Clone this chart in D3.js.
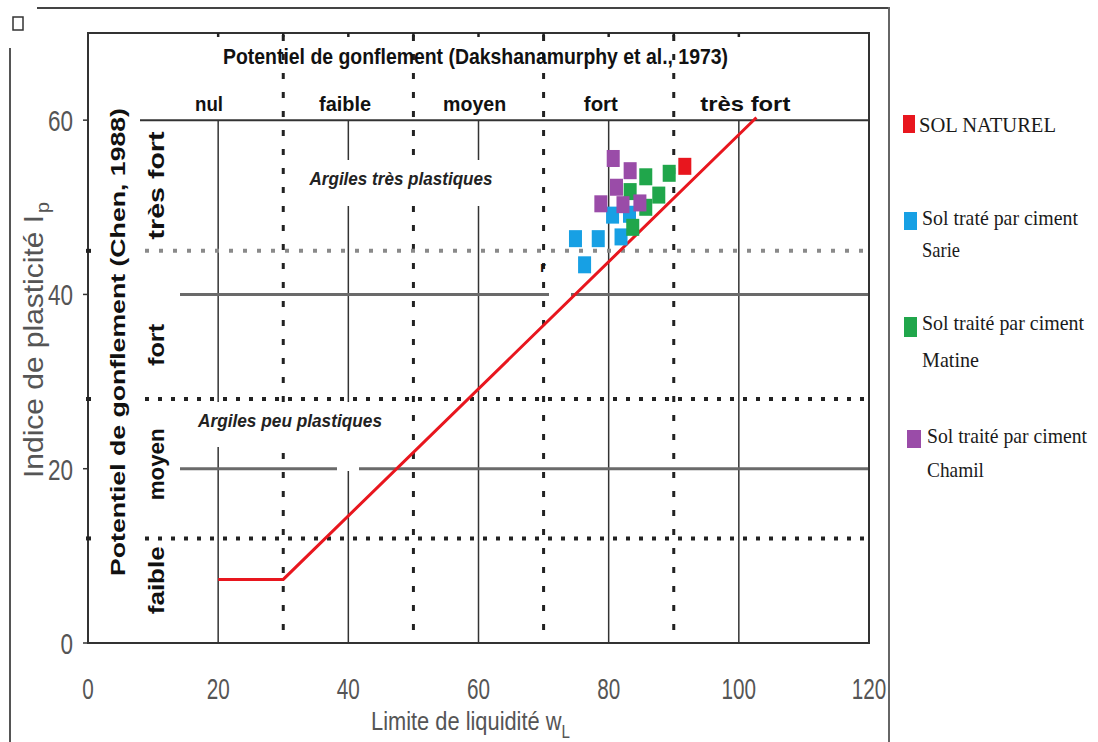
<!DOCTYPE html>
<html>
<head>
<meta charset="utf-8">
<script src="https://cdn.jsdelivr.net/npm/d3@7"></script>
<style>
  body { margin: 0; background: #fff; }
</style>
</head>
<body>
<div id="chart"></div>
<script>
// axis ticks
const xTicks = [0, 20, 40, 60, 80, 100, 120];
const yTicks = [0, 20, 40, 60];

// Dakshanamurphy classes (liquid limit)
const solidX = [20, 40, 60, 80, 100];
const dottedX = [30, 50, 70, 90];
const topTickX = [20, 30, 40, 50, 60, 70, 80, 90, 100];
const dakshLabels = ['nul', 'faible', 'moyen', 'fort', 'très fort'];
const dakshLabelX = [18.6, 39.5, 59.4, 78.8, 101];

// Chen classes (plasticity index)
const solidY = [20, 40, 60];
const dottedY = [12, 28, 45];
const chenLabels = ['très fort', 'fort', 'moyen', 'faible'];
const chenLabelY = [52.5, 34.2, 20.5, 7.2];

// A-line
const aLine = [[20, 7.3], [30, 7.3], [102.7, 60.3]];

// samples [wL, Ip]
const solNaturel = [[91.7, 54.7]];
const sarie = [[80.6, 49.1], [83.2, 49.2], [74.9, 46.4], [78.4, 46.4], [81.9, 46.6], [76.3, 43.4]];
const matine = [[85.7, 53.5], [89.3, 53.9], [83.3, 51.8], [87.7, 51.4], [85.7, 50.0], [83.7, 47.7]];
const chamil = [[80.7, 55.6], [83.3, 54.2], [81.2, 52.3], [78.8, 50.4], [82.2, 50.3], [84.8, 50.5]];

const legendLines = [
  ['SOL NATUREL'],
  ['Sol traté par ciment', 'Sarie'],
  ['Sol traité par ciment', 'Matine'],
  ['Sol traité par ciment', 'Chamil']
];
const colors = ['#e8161e', '#17a0e4', '#20a64b', '#9a4ca8'];

const W = 1098, H = 742;
const svg = d3.select('#chart').append('svg').attr('width', W).attr('height', H);

const x = d3.scaleLinear().domain([0, 120]).range([88, 869]);
const y = d3.scaleLinear().domain([0, 70]).range([643, 33]);

const SANS = 'Liberation Sans, Arial, sans-serif';
const SERIF = 'Liberation Serif, Times New Roman, serif';

function label(str, px, py, o) {
  const t = svg.append('text')
    .attr('x', px).attr('y', py)
    .attr('font-family', o.family || SANS)
    .attr('font-size', o.size)
    .attr('font-weight', o.weight || 'normal')
    .attr('font-style', o.style || 'normal')
    .attr('fill', o.fill || '#111')
    .attr('text-anchor', o.anchor || 'start')
    .text(str);
  if (o.len) t.attr('textLength', o.len).attr('lengthAdjust', 'spacingAndGlyphs');
  if (o.rotate) t.attr('transform', `rotate(${o.rotate},${px},${py})`);
  return t;
}

// outer page lines
svg.append('line').attr('x1', 37).attr('x2', 889).attr('y1', 8).attr('y2', 8).attr('stroke', '#444').attr('stroke-width', 2);
svg.append('line').attr('x1', 889).attr('x2', 889).attr('y1', 7).attr('y2', H).attr('stroke', '#666').attr('stroke-width', 2);
svg.append('line').attr('x1', 10).attr('x2', 10).attr('y1', 48).attr('y2', H).attr('stroke', '#555').attr('stroke-width', 2);
svg.append('rect').attr('x', 13).attr('y', 17).attr('width', 10).attr('height', 13)
  .attr('fill', 'none').attr('stroke', '#333').attr('stroke-width', 1.5);

const grid = svg.append('g');

// solid vertical lines
grid.selectAll('.vs').data(solidX).join('line')
  .attr('x1', d => x(d)).attr('x2', d => x(d))
  .attr('y1', y(60)).attr('y2', y(0))
  .attr('stroke', '#333').attr('stroke-width', 1.5);

// dotted vertical lines
grid.selectAll('.vd').data(dottedX).join('line')
  .attr('x1', d => x(d)).attr('x2', d => x(d))
  .attr('y1', y(70) + 2).attr('y2', y(0))
  .attr('stroke', '#222').attr('stroke-width', 3)
  .attr('stroke-dasharray', '6 13');

// solid horizontal lines
grid.selectAll('.hs').data(solidY).join('line')
  .attr('x1', d => d === 60 ? 140 : 180).attr('x2', x(120))
  .attr('y1', d => y(d)).attr('y2', d => y(d))
  .attr('stroke', d => d === 60 ? '#333' : '#6a6a6a')
  .attr('stroke-width', d => d === 60 ? 2 : 3);

// dotted horizontal lines
grid.selectAll('.hd').data(dottedY).join('line')
  .attr('x1', 145).attr('x2', x(120))
  .attr('y1', d => y(d)).attr('y2', d => y(d))
  .attr('stroke', d => d === 45 ? '#8a8a8a' : '#222')
  .attr('stroke-width', 4)
  .attr('stroke-dasharray', d => d === 45 ? '4 10' : '4 9');

// frame
svg.append('rect').attr('x', x(0)).attr('y', y(70))
  .attr('width', x(120) - x(0)).attr('height', y(0) - y(70))
  .attr('fill', 'none').attr('stroke', '#333').attr('stroke-width', 2);

// top ticks
svg.selectAll('.tt').data(topTickX).join('line')
  .attr('x1', d => x(d)).attr('x2', d => x(d))
  .attr('y1', y(70)).attr('y2', y(70) + 4)
  .attr('stroke', '#222').attr('stroke-width', 2.5);

// left ticks
svg.selectAll('.lt').data(yTicks).join('line')
  .attr('x1', x(0) - 5).attr('x2', x(0))
  .attr('y1', d => y(d)).attr('y2', d => y(d))
  .attr('stroke', '#333').attr('stroke-width', 1.5);
svg.selectAll('.ld').data(dottedY).join('line')
  .attr('x1', x(0) - 2).attr('x2', x(0) + 3)
  .attr('y1', d => y(d)).attr('y2', d => y(d))
  .attr('stroke', '#222').attr('stroke-width', 4);

// white label boxes that cut the grid
const boxes = [[297, 160, 231, 46], [188, 402, 207, 45], [337, 446, 22, 25], [549, 289, 22, 12]];
svg.selectAll('.wb').data(boxes).join('rect')
  .attr('x', d => d[0]).attr('y', d => d[1]).attr('width', d => d[2]).attr('height', d => d[3])
  .attr('fill', '#fff');

// tick labels
xTicks.forEach(t => {
  label(String(t), x(t), 699, { size: 29, fill: '#555', anchor: 'middle', len: 11.5 * String(t).length });
});
yTicks.forEach(t => {
  label(String(t), 73, y(t) + 11, { size: 30, fill: '#555', anchor: 'end', len: 12.5 * String(t).length });
});

// axis titles
const xTitle = svg.append('text')
  .attr('transform', 'translate(371,730) scale(0.84,1)')
  .attr('font-family', SANS).attr('font-size', 26).attr('fill', '#555');
xTitle.append('tspan').text('Limite de liquidité w');
xTitle.append('tspan').attr('font-size', 18).attr('dy', 8).text('L');

label('Indice de plasticité I', 43, 478, { size: 28, fill: '#555', len: 263, rotate: -90 });
label('p', 49, 213, { size: 19, fill: '#555', len: 11, rotate: -90 });

// class titles
label('Potentiel de gonflement (Dakshanamurphy et al., 1973)', 223, 64, { size: 22, weight: 'bold', len: 505 });
dakshLabels.forEach((s, i) => {
  const widths = [28, 52, 63, 34, 90];
  label(s, x(dakshLabelX[i]), 111, { size: 21, weight: 'bold', anchor: 'middle', len: widths[i] });
});
label('Potentiel de gonflement (Chen, 1988)', 125, 576, { size: 20, weight: 'bold', len: 468, rotate: -90 });
chenLabels.forEach((s, i) => {
  const lens = [108, 42, 72, 68];
  label(s, 164, y(chenLabelY[i]), { size: 22, weight: 'bold', anchor: 'middle', len: lens[i], rotate: -90 });
});

label('Argiles très plastiques', 401, 185, { size: 18, style: 'italic', weight: 'bold', anchor: 'middle', len: 183, fill: '#222' });
label('Argiles peu plastiques', 290, 427, { size: 18, style: 'italic', weight: 'bold', anchor: 'middle', len: 184, fill: '#222' });
label('r', 543, 272, { size: 15, weight: 'bold', anchor: 'middle' });

// A-line
svg.append('path')
  .attr('d', d3.line().x(d => x(d[0])).y(d => y(d[1]))(aLine))
  .attr('fill', 'none').attr('stroke', '#e8161e').attr('stroke-width', 3);

// samples
const series = [sarie, matine, chamil, solNaturel];
const seriesColors = [colors[1], colors[2], colors[3], colors[0]];
series.forEach((pts, i) => {
  svg.append('g').selectAll('rect').data(pts).join('rect')
    .attr('x', d => x(d[0]) - 6.5).attr('y', d => y(d[1]) - 8.5)
    .attr('width', 13).attr('height', 17)
    .attr('fill', seriesColors[i]);
});

// legend
const legSq = [[903, 115, 12, 18], [904, 212, 13, 18], [904, 317, 13, 20], [907, 430, 14, 18]];
const legText = [
  [[919, 132, 137]],
  [[922, 225, 156], [922, 257, 38]],
  [[922, 330, 162], [922, 367, 57]],
  [[927, 443, 160], [927, 477, 57]]
];
legendLines.forEach((lines, i) => {
  const s = legSq[i];
  svg.append('rect').attr('x', s[0]).attr('y', s[1]).attr('width', s[2]).attr('height', s[3]).attr('fill', colors[i]);
  lines.forEach((ln, j) => {
    const p = legText[i][j];
    label(ln, p[0], p[1], { size: 21, family: SERIF, fill: '#1a1a1a', len: p[2] });
  });
});
</script>
</body>
</html>
